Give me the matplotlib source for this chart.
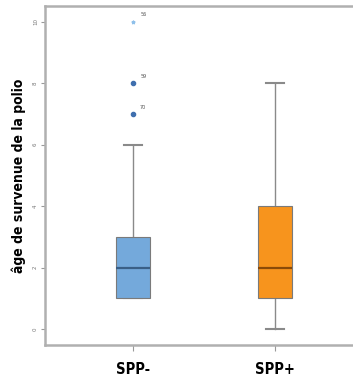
import matplotlib
matplotlib.use("Agg")
import matplotlib.pyplot as plt

# Données
groupes = ["SPP-", "SPP+"]
q1 = [1, 1]
mediane = [2, 2]
q3 = [3, 4]
moustache_bas = [1, 0]
moustache_haut = [6, 8]
couleurs = ["#74a9db", "#f7941d"]
couleurs_mediane = ["#3a5f86", "#8a4a08"]

# valeurs atypiques (groupe SPP-)
atyp_valeurs = [7, 8]
atyp_cas = ["70", "59"]
extreme_valeurs = [10]
extreme_cas = ["56"]

fig = plt.figure(figsize=(3.53, 3.83), dpi=100)
ax = fig.add_axes([0.1275, 0.099, 0.8725, 0.885])

stats = []
for i, g in enumerate(groupes):
    stats.append({"label": g, "whislo": moustache_bas[i], "q1": q1[i], "med": mediane[i],
                  "q3": q3[i], "whishi": moustache_haut[i], "fliers": []})

bp = ax.bxp(stats, positions=[1, 2], widths=0.245, patch_artist=True, showfliers=False,
            capwidths=0.13,
            whiskerprops=dict(color="#8a8a8a", linewidth=1.0),
            capprops=dict(color="#8a8a8a", linewidth=1.5))
for i, box in enumerate(bp["boxes"]):
    box.set_facecolor(couleurs[i])
    box.set_edgecolor("#7a7a7a")
    box.set_linewidth(0.8)
    box.set_zorder(3)
for i, med in enumerate(bp["medians"]):
    med.set_color(couleurs_mediane[i])
    med.set_linewidth(1.6)
    med.set_zorder(4)

ax.scatter([1] * len(atyp_valeurs), atyp_valeurs, s=9, color="#3f6fae", zorder=3)
ax.scatter([1] * len(extreme_valeurs), extreme_valeurs, s=5, marker="*", color="#8fc0ea", zorder=3)
for v, c in zip(atyp_valeurs + extreme_valeurs, atyp_cas + extreme_cas):
    ax.text(1.05, v + 0.22, c, fontsize=3.5, color="#555555", ha="left", va="center")

ax.set_xlim(0.38, 2.55)
ax.set_ylim(-0.52, 10.5)
ax.set_yticks([0, 2, 4, 6, 8, 10])
ax.set_yticklabels(["0", "2", "4", "6", "8", "10"], fontsize=4, color="#777777", rotation=90, va="center")
ax.set_xticks([1, 2])
ax.set_xticklabels(groupes, fontsize=10.5, fontweight="bold", family="DejaVu Sans", fontstretch="condensed")
ax.tick_params(axis="y", length=3, color="#999999", pad=2)
ax.tick_params(axis="x", length=4, color="#999999", pad=8)
ax.set_ylabel("âge de survenue de la polio", fontsize=10, fontweight="bold", labelpad=5,
              family="DejaVu Sans", fontstretch="condensed")

for s in ["left", "bottom", "top"]:
    ax.spines[s].set_color("#b0b0b0")
    ax.spines[s].set_linewidth(1.8)
ax.spines["right"].set_visible(False)

fig.savefig("out.png", dpi=100)
